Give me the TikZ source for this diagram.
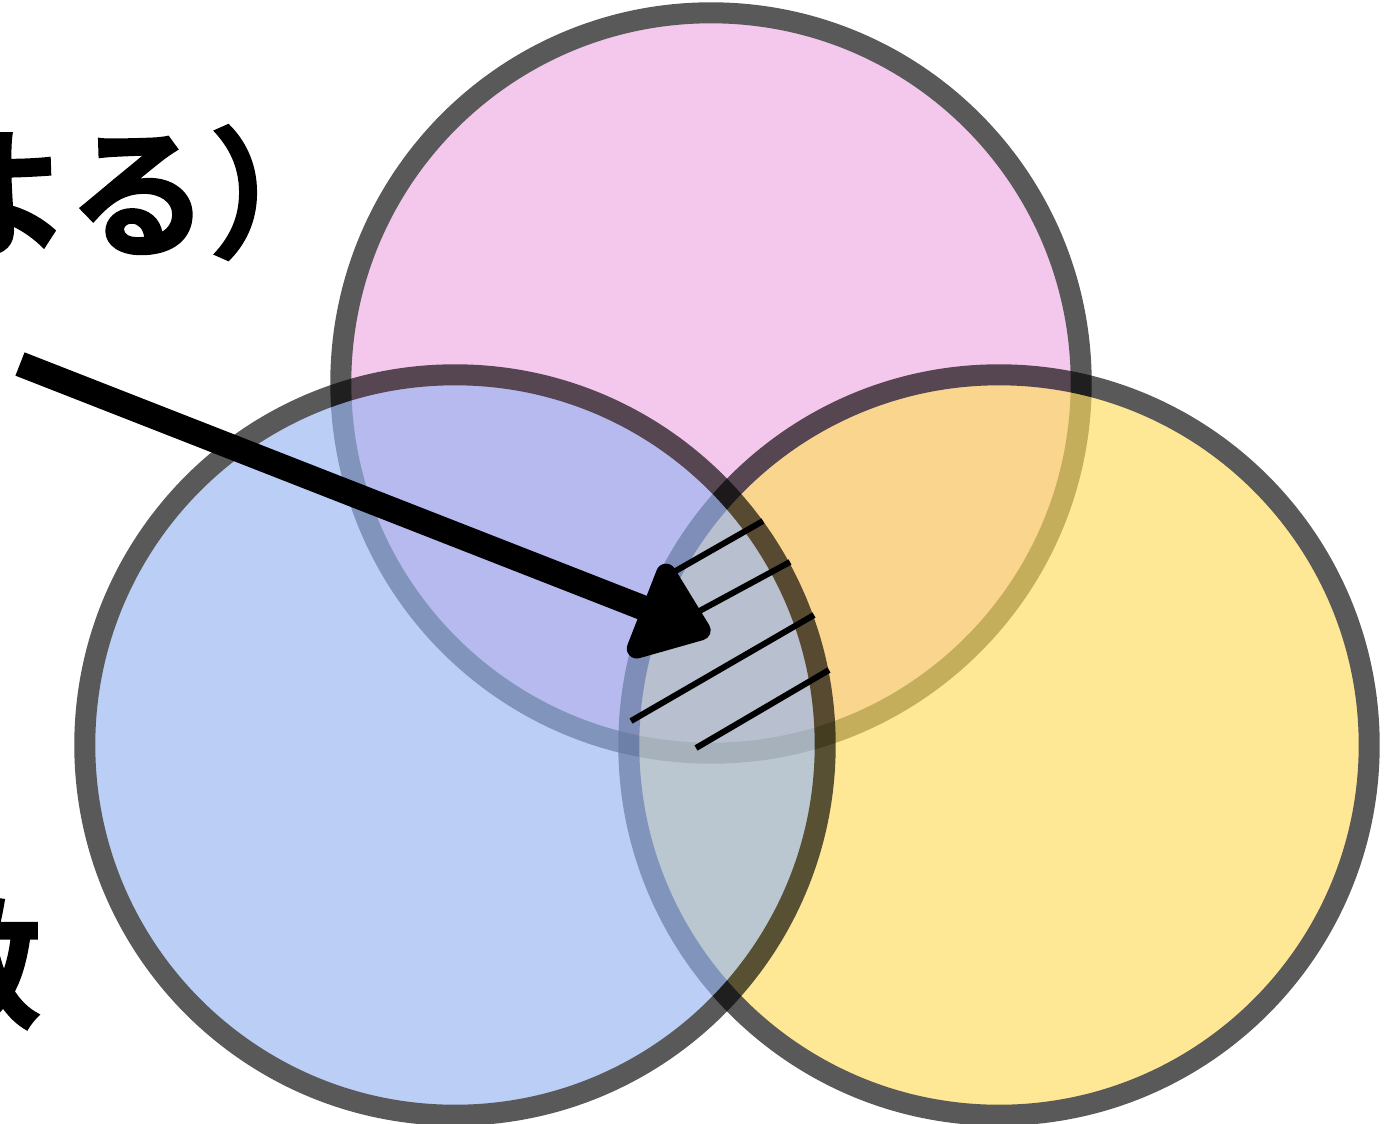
\documentclass[tikz,border=0pt]{standalone}
\usepackage{fontspec}
\usetikzlibrary{arrows.meta}

\newfontfamily\jpfont{Noto Sans CJK JP Bold}[FakeBold = 1.5]

\definecolor{pinkfill}{RGB}{238,170,226}
\definecolor{bluefill}{RGB}{150,180,241}
\definecolor{yellowfill}{RGB}{254,220,92}

\tikzset{
	venn/.style = {transparency group, opacity = 0.65},
	rim/.style = {draw = black, line width = 0.21cm},
	hatch/.style = {line width = 0.06cm},
	label/.style = {anchor = base east, inner sep = 0, font = \jpfont\fontsize{40}{42}\selectfont}
}

\begin{document}
\begin{tikzpicture}[x = 0.01cm, y = -0.01cm, > = {Triangle[length = 0.8cm, width = 1.15cm, round]}]

	\useasboundingbox (0, 0) rectangle (1384, 1123);

	% Three sets
	
	\begin{scope}[venn]
		\draw [rim, fill = pinkfill] (711, 383) circle [radius = 3.7cm];
	\end{scope}
	
	\begin{scope}[venn]
		\draw [rim, fill = yellowfill] (999, 745) circle [radius = 3.7cm];
	\end{scope}
	
	\begin{scope}[venn]
		\draw [rim, fill = bluefill] (455, 745) circle [radius = 3.7cm];
	\end{scope}
	
	% Hatching of the shared part
	
	\begin{scope}[hatch]
	
		\draw (672, 573) -- (763, 521);
		\draw (692, 615) -- (790, 562);
		\draw (631, 721) -- (814, 615);
		\draw (696, 748) -- (829, 670);

	\end{scope}
	
	% Pointer
	
	\coordinate (tail) at (20, 364);
	\coordinate (tip) at (710, 634);
	
	\draw [->, line width = 0.25cm] (tail) -- (tip);
	
	% Labels, cut off by the left edge
	
	\node (caption) [label] at (350, 246) {（ベン図による）};
	\node (count) [label] at (42, 1017) {数};

\end{tikzpicture}
\end{document}
